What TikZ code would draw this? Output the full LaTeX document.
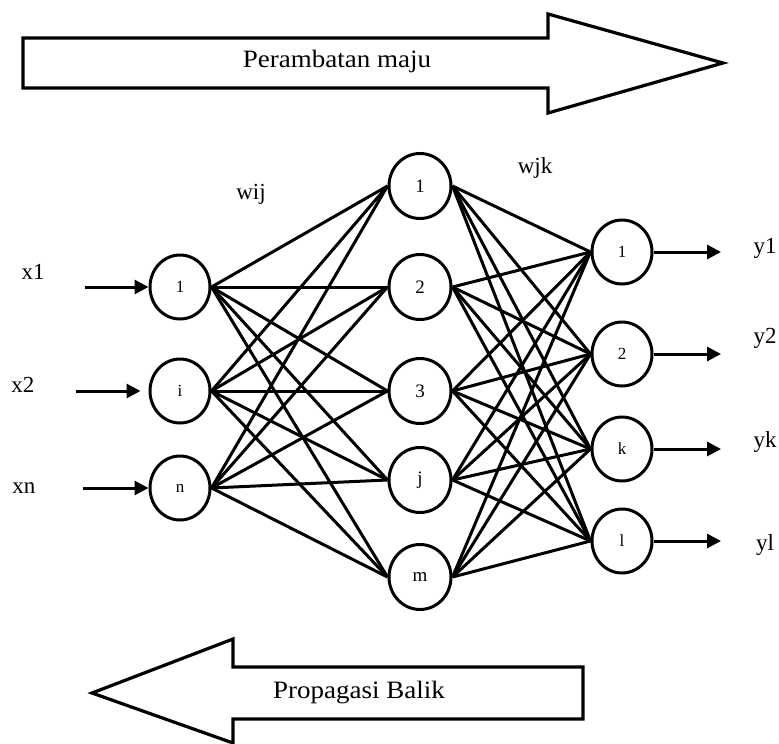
\documentclass[tikz,border=0pt]{standalone}
\usepackage{fontspec}
\setmainfont{Liberation Serif}
\usetikzlibrary{shapes.geometric,arrows.meta}
\begin{document}
\begin{tikzpicture}[x=1pt,y=-1pt,
  neuron/.style={draw,ellipse,line width=3pt,minimum width=60pt,minimum height=64pt,inner sep=0pt,font=\fontsize{17}{17}\selectfont},
  hneuron/.style={neuron,minimum width=62pt,minimum height=65pt,font=\fontsize{19}{19}\selectfont},
  link/.style={line width=3pt},
  io/.style={line width=3pt,-{Triangle[length=14pt,width=14pt]}},
  lbl/.style={inner sep=0pt,font=\fontsize{23}{23}\selectfont},
  bigarrow/.style={draw,line width=3.2pt,line join=miter,fill=white},
  arrowtext/.style={inner sep=0pt,font=\fontsize{25}{25}\selectfont,xscale=1.08}]
\useasboundingbox (0,0) rectangle (779,744);
% big arrows
\draw[bigarrow] (23,38) -- (548,38) -- (548,14) -- (723,63) -- (548,113) -- (548,88) -- (23,88) -- cycle;
\node[arrowtext] (fwd) at (337,61) {Perambatan maju};
\draw[bigarrow] (583,667) -- (233,667) -- (233,639) -- (92,693) -- (233,743) -- (233,719) -- (583,719) -- cycle;
\node[arrowtext] (bwd) at (359,693) {Propagasi Balik};
% input layer
\node[neuron] (i1) at (180,287) {1};
\node[neuron] (i2) at (180,391) {i};
\node[neuron] (i3) at (180,488) {n};
% hidden layer
\node[hneuron] (h1) at (420,186) {1};
\node[hneuron] (h2) at (420,287) {2};
\node[hneuron] (h3) at (420,391) {3};
\node[hneuron] (h4) at (420,480) {j};
\node[hneuron] (h5) at (420,577) {m};
% output layer
\node[neuron] (o1) at (622,252) {1};
\node[neuron] (o2) at (622,354) {2};
\node[neuron] (o3) at (622,449) {k};
\node[neuron] (o4) at (622,541) {l};
% connections
\foreach \a in {i1,i2,i3}{
  \foreach \b in {h1,h2,h3,h4,h5}{
    \draw[link] (\a.east) -- (\b.west);
  }
}
\foreach \a in {h1,h2,h3,h4,h5}{
  \foreach \b in {o1,o2,o3,o4}{
    \draw[link] (\a.east) -- (\b.west);
  }
}
% inputs
\coordinate (s1) at (85,287);
\coordinate (s2) at (76,391);
\coordinate (s3) at (83,488);
\draw[io] (s1) -- (i1.west);
\draw[io,shorten >=8pt] (s2) -- (i2.west);
\draw[io] (s3) -- (i3.west);
\node[lbl] (x1) at (33,272) {x1};
\node[lbl] (x2) at (23,385) {x2};
\node[lbl] (xn) at (24,488) {xn};
% outputs
\coordinate (t1) at (721,252);
\coordinate (t2) at (721,354);
\coordinate (t3) at (721,449);
\coordinate (t4) at (721,541);
\draw[io] (o1.east) -- (t1);
\draw[io] (o2.east) -- (t2);
\draw[io] (o3.east) -- (t3);
\draw[io] (o4.east) -- (t4);
\node[lbl] (y1) at (765,248) {y1};
\node[lbl] (y2) at (765,338) {y2};
\node[lbl] (yk) at (765,442) {yk};
\node[lbl] (yl) at (765,545) {yl};
% weights
\node[lbl] (wij) at (251,194) {wij};
\node[lbl] (wjk) at (535,168) {wjk};
\end{tikzpicture}
\end{document}
